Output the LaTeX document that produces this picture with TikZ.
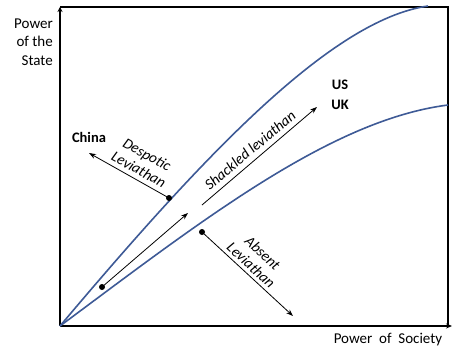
\documentclass[tikz,border=0pt]{standalone}
\usepackage{fontspec}
\setmainfont{Carlito}
\usetikzlibrary{arrows.meta}
\definecolor{curveblue}{RGB}{62,90,150}
\begin{document}
\begin{tikzpicture}[x=1pt,y=-1pt,
  lbl/.style={font=\fontsize{15}{18.5}\selectfont, inner sep=0pt},
  boldlbl/.style={font=\fontsize{14.5}{20}\selectfont\bfseries, inner sep=0pt},
  itlbl/.style={font=\fontsize{15}{17}\selectfont\itshape, inner sep=0pt, align=center},
  axis/.style={line width=2pt, black},
  curve/.style={line width=1.6pt, curveblue},
  arr/.style={line width=0.8pt, -{Stealth[length=7pt,width=5pt]}},
  dot/.style={circle, fill=black, inner sep=0pt, minimum size=6pt}]
\useasboundingbox (0,0) rectangle (458,359);
% frame and axes
\coordinate (O) at (60,326);
\coordinate (ytop) at (60,7);
\coordinate (tr) at (448,7);
\coordinate (br) at (448,326);
\coordinate (xend) at (452,326);
\draw[axis] (ytop) -- (tr) -- (br);
\draw[axis, -{Stealth[length=6pt,width=5pt]}] (O) -- (xend);
\draw[axis, -{Stealth[length=5pt,width=5pt]}] (O) -- (ytop);
% curves
\coordinate (uend) at (428,6);
\coordinate (lend) at (448,105);
\draw[curve] (O) .. controls (200,160) and (330,20) .. (uend);
\draw[curve] (O) .. controls (200,222) and (330,120) .. (lend);
% axis labels
\node[lbl, anchor=east, align=right] (ylab) at (53,42) {Power\\of the\\State};
\node[lbl] (xlab) at (388,340) {Power\ \ of\ \ Society};
% countries
\node[boldlbl] (china) at (89,137) {China};
\node[boldlbl] (us) at (340,85) {US};
\node[boldlbl] (uk) at (340,105) {UK};
% despotic
\node[dot] (d1) at (169,198) {};
\coordinate (c1) at (89,153);
\draw[arr] (d1.center) -- (c1);
\node[itlbl, rotate=-29] (desp) at (143,162) {Despotic\\Leviathan};
% shackled
\node[dot] (d2) at (102,287) {};
\coordinate (c2) at (188,213);
\draw[arr] (d2.center) -- (c2);
\coordinate (c3) at (202,205);
\coordinate (c4) at (317,107);
\draw[arr] (c3) -- (c4);
\node[itlbl, rotate=40] (shack) at (250,150) {Shackled leviathan};
% absent
\node[dot] (d3) at (202,232) {};
\coordinate (c5) at (293,316);
\draw[arr] (d3.center) -- (c5);
\node[itlbl, rotate=-43] (abs) at (257,259) {Absent\\Leviathan};
\end{tikzpicture}
\end{document}
